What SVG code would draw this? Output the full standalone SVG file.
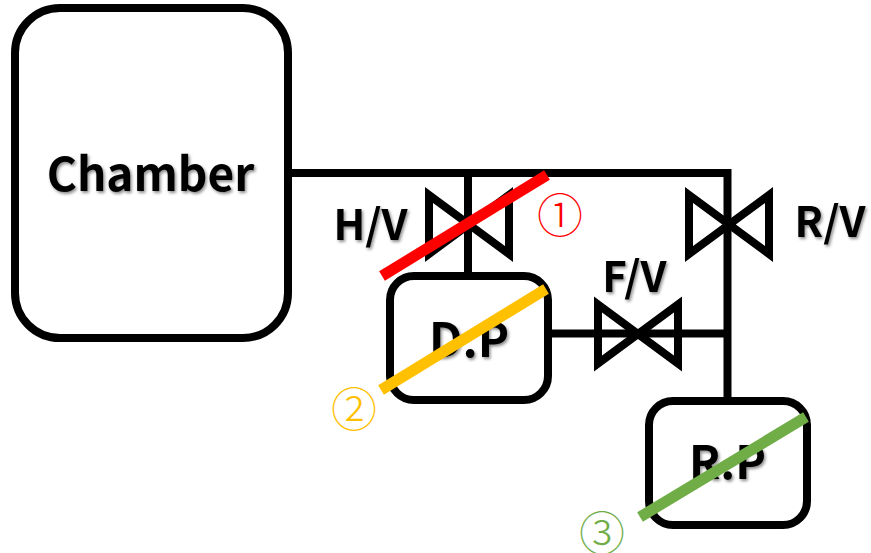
<svg xmlns="http://www.w3.org/2000/svg" width="871" height="553" viewBox="0 0 871 553">
  <defs>
    <filter id="shadow" x="-10%" y="-20%" width="120%" height="150%">
      <feDropShadow dx="1.5" dy="2" stdDeviation="1.6" flood-color="#000" flood-opacity="0.45"/>
    </filter>
    <polygon id="valve" points="-40,-29.5 40,29.5 40,-29.5 -40,29.5"/>
  </defs>
  <style>
    .box { fill: #fff; stroke: #000; stroke-width: 8; }
    .pipe { fill: none; stroke: #000; stroke-width: 8; }
    .valve { fill: none; stroke: #000; stroke-width: 8; stroke-miterlimit: 6; }
    .label { font-family: "Noto Sans CJK KR", "Open Sans", sans-serif; font-weight: 700; fill: #000; filter: url(#shadow); }
    .num { font-family: "Noto Sans CJK KR", sans-serif; font-weight: 300; font-size: 46px; text-anchor: middle; }
    .slash { stroke-width: 11; fill: none; }
  </style>
  <rect width="871" height="553" fill="#fff"/>
  <g id="connectors">
    <path class="pipe" d="M288,173 H727.500"/>
    <path class="pipe" d="M727.500,169 V401"/>
    <path class="pipe" d="M468,173 V276"/>
    <path class="pipe" d="M548,333.500 H727"/>
  </g>
  <g id="chamber">
    <rect class="box" x="15" y="8" width="273" height="330" rx="45"/>
    <text class="label" x="150.500" y="191" font-size="46" text-anchor="middle">Chamber</text>
  </g>
  <g id="hv">
    <use class="valve" href="#valve" x="469" y="224.500"/>
    <text class="label" x="370.500" y="240" font-size="42" text-anchor="middle">H/V</text>
  </g>
  <g id="rv">
    <use class="valve" href="#valve" x="729" y="224.500"/>
    <text class="label" x="830" y="237" font-size="42" text-anchor="middle">R/V</text>
  </g>
  <g id="fv">
    <use class="valve" href="#valve" x="638" y="334"/>
    <text class="label" x="634.500" y="292" font-size="42" text-anchor="middle">F/V</text>
  </g>
  <g id="dp">
    <rect class="box" x="390" y="276" width="158" height="124" rx="24"/>
    <text class="label" x="469" y="357" font-size="47" text-anchor="middle">D.P</text>
  </g>
  <g id="rp">
    <rect class="box" x="649" y="401" width="158" height="124" rx="24"/>
    <text class="label" x="727.500" y="479" font-size="46" text-anchor="middle">R.P</text>
  </g>
  <g id="mark1">
    <path class="slash" stroke="#f00" d="M382,276 L547,175"/>
    <text class="num" x="560" y="232" fill="#f00">①</text>
  </g>
  <g id="mark2">
    <path class="slash" stroke="#ffc000" d="M381,390 L546,289"/>
    <text class="num" x="354" y="426" fill="#ffc000">②</text>
  </g>
  <g id="mark3">
    <path class="slash" stroke="#70ad47" d="M640,517 L806,417"/>
    <text class="num" x="602" y="550" fill="#70ad47">③</text>
  </g>
</svg>
